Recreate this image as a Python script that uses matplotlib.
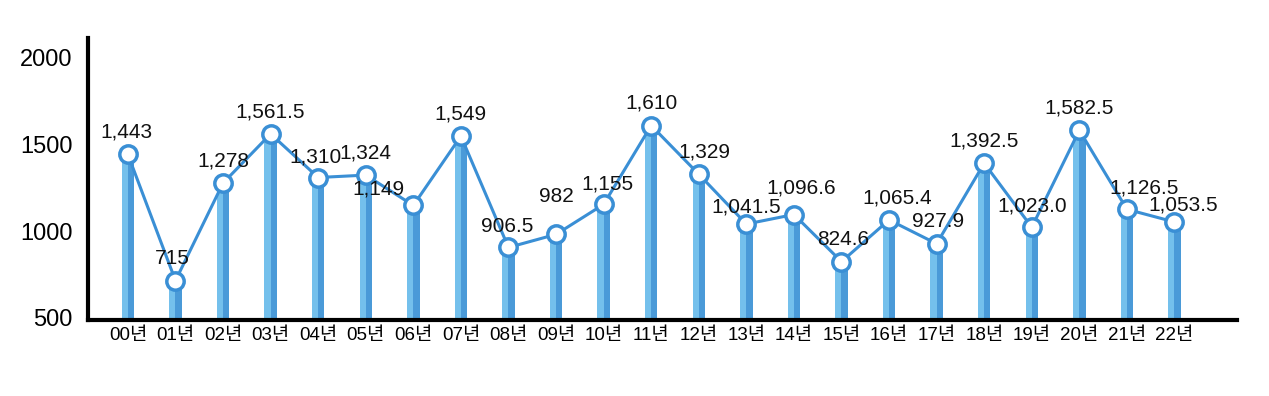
import matplotlib.pyplot as plt
import numpy as np

plt.rcParams['font.family'] = ['Liberation Sans', 'Noto Sans CJK KR', 'DejaVu Sans']

years = ['00년', '01년', '02년', '03년', '04년', '05년', '06년', '07년', '08년', '09년',
         '10년', '11년', '12년', '13년', '14년', '15년', '16년', '17년', '18년', '19년',
         '20년', '21년', '22년']
values = [1443, 715, 1278, 1561.5, 1310, 1324, 1149, 1549, 906.5, 982,
          1155, 1610, 1329, 1041.5, 1096.6, 824.6, 1065.4, 927.9, 1392.5, 1023.0,
          1582.5, 1126.5, 1053.5]
labels = ['1,443', '715', '1,278', '1,561.5', '1,310', '1,324', '1,149', '1,549', '906.5', '982',
          '1,155', '1,610', '1,329', '1,041.5', '1,096.6', '824.6', '1,065.4', '927.9', '1,392.5',
          '1,023.0', '1,582.5', '1,126.5', '1,053.5']

# label offsets in points (dx, dy)
offsets = [(-1, 16), (-2, 16), (0, 16), (0, 16), (-2, 15), (0, 16), (-25, 12), (0, 16), (-1, 15), (0, 27),
           (3, 15), (0, 16), (4, 16), (0, 12), (5, 19), (1, 16), (6, 16), (1, 16), (0, 16), (0, 15),
           (0, 16), (12, 15), (6, 12)]

x = np.arange(len(values))
line_c = '#3a8fd5'

fig = plt.figure(figsize=(12.69, 3.96), dpi=100)
ax = fig.add_axes([0.0693, 0.192, 0.9057, 0.712])

bottom = 488
h = np.array(values) - bottom
ax.bar(x - 0.065, h, width=0.13, bottom=bottom, color='#74c0ec', zorder=1)
ax.bar(x + 0.065, h, width=0.13, bottom=bottom, color='#4a9ad8', zorder=1)
ax.plot(x, values, color=line_c, lw=2.2, zorder=2)
ax.plot(x, values, 'o', ms=12.5, mfc='white', mec=line_c, mew=2.5, zorder=3)

for xi, v, lab, (dx, dy) in zip(x, values, labels, offsets):
    ax.annotate(lab, (xi, v), xytext=(dx, dy), textcoords='offset points',
                ha='center', va='center', fontsize=15, color='#111111')

ax.set_xlim(-0.84, 23.32)
ax.set_ylim(bottom, 2115)
ax.set_yticks([500, 1000, 1500, 2000])
ax.set_xticks(x)
ax.set_xticklabels(years, fontsize=13.5)
ax.tick_params(axis='y', labelsize=17, length=0, pad=11)
ax.tick_params(axis='x', length=0, pad=5)
for s in ['top', 'right']:
    ax.spines[s].set_visible(False)
ax.spines['left'].set_linewidth(3)
ax.spines['bottom'].set_linewidth(3)

fig.savefig('out.png', dpi=100)
